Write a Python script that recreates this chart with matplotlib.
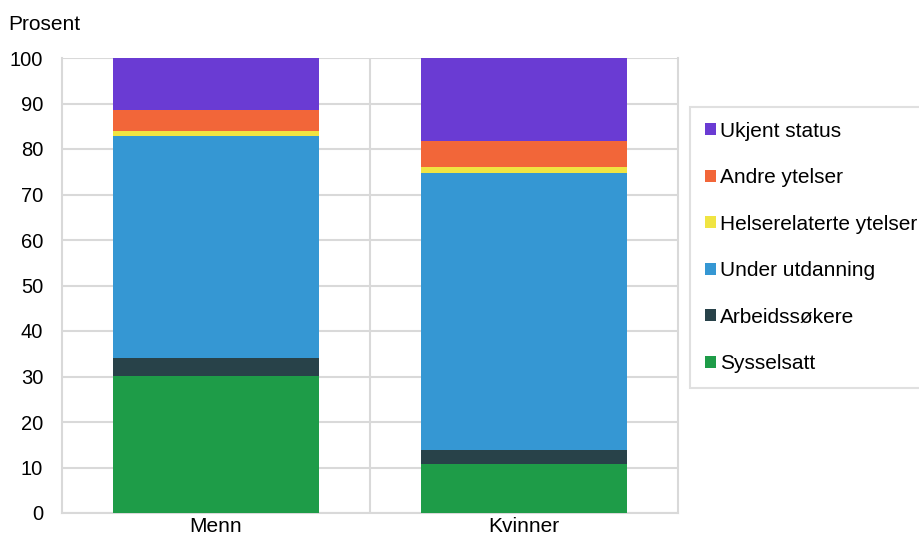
import matplotlib
matplotlib.use("Agg")
import matplotlib.pyplot as plt
import numpy as np

plt.rcParams['font.family'] = ['Liberation Sans', 'DejaVu Sans']

categories = ["Menn", "Kvinner"]
series_names = ["Sysselsatt", "Arbeidssøkere", "Under utdanning",
                "Helserelaterte ytelser", "Andre ytelser", "Ukjent status"]
sysselsatt = [30.2, 10.8]
arbeidssokere = [3.9, 3.0]
under_utdanning = [48.8, 61.0]
helserelaterte = [1.0, 1.2]
andre_ytelser = [4.7, 5.8]
ukjent_status = [11.4, 18.2]
colors = ["#1e9c48", "#284249", "#3597d3", "#f0e442", "#f26639", "#6a3bd3"]
yticks = list(range(0, 101, 10))

values = [sysselsatt, arbeidssokere, under_utdanning, helserelaterte, andre_ytelser, ukjent_status]

fig = plt.figure(figsize=(9.2, 5.37), dpi=100)
ax = fig.add_axes([62/920, 1-513/537, (678-62)/920, (513-58)/537])

x = np.arange(len(categories))
bottom = np.zeros(len(categories))
handles = []
for name, vals, c in zip(series_names, values, colors):
    b = ax.bar(x, vals, bottom=bottom, width=0.666, color=c, label=name, zorder=3)
    handles.append(b)
    bottom += np.array(vals)

ax.set_xlim(-0.5, 1.5)
ax.set_ylim(0, 100)
ax.set_yticks(yticks)
ax.set_yticklabels([str(t) for t in yticks], fontsize=14.5)
ax.set_xticks(x)
ax.set_xticklabels(categories, fontsize=15)
ax.tick_params(length=0, pad=3)
ax.tick_params(axis='y', pad=13.5)
ax.set_xticks([0.5], minor=True)
ax.tick_params(which='minor', length=0)
ax.grid(axis='y', color='#d9d9d9', linewidth=1.5, zorder=0)
ax.grid(axis='x', which='minor', color='#d9d9d9', linewidth=1.5, zorder=0)
for s in ['left', 'right', 'bottom']:
    ax.spines[s].set_color('#d9d9d9')
    ax.spines[s].set_linewidth(1.5)
ax.spines['top'].set_visible(False)
ax.spines['left'].set_zorder(0)

fig.text(8/920, 1-25/537, "Prosent", fontsize=15, va='center', ha='left')

leg = fig.legend(handles[::-1], series_names[::-1], loc='upper left',
                 bbox_to_anchor=(690/920, 1-107/537), fontsize=15,
                 handlelength=0.53, handleheight=0.53, handletextpad=0.23,
                 labelspacing=1.32, borderpad=0.7, borderaxespad=0,
                 fancybox=False, frameon=True)
leg.get_frame().set_edgecolor('#d9d9d9')
leg.get_frame().set_linewidth(1.5)

fig.savefig("out.png", dpi=100)
